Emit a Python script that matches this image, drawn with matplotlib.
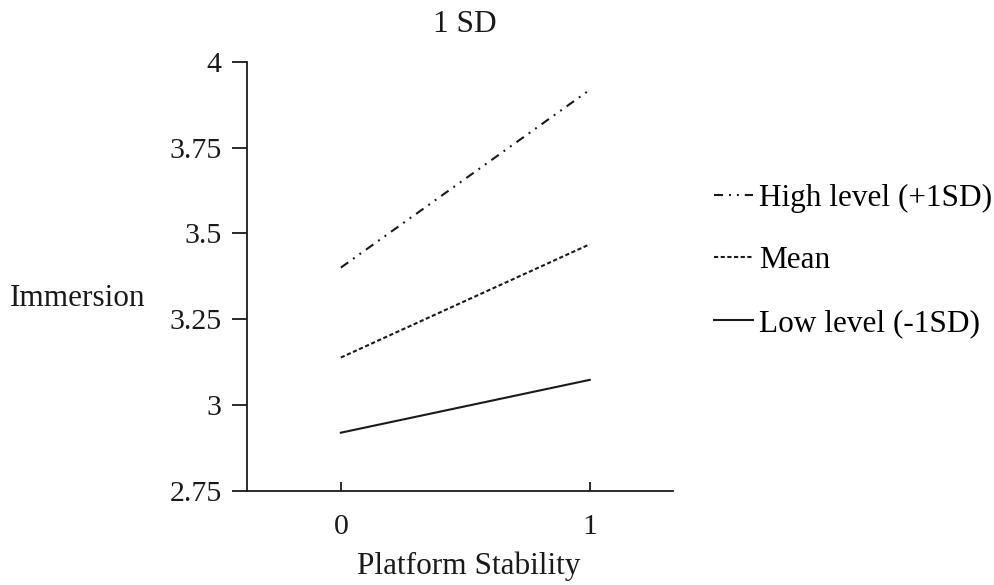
import matplotlib
matplotlib.use('Agg')
import matplotlib.pyplot as plt

# Dados
x_vals = [0, 1]
high = [3.40, 3.918]
mean = [3.138, 3.468]
low = [2.919, 3.073]
labels = ['High level (+1SD)', 'Mean', 'Low level (-1SD)']
y_ticks = [2.75, 3, 3.25, 3.5, 3.75, 4]
y_ticklabels = ['2.75', '3', '3.25', '3.5', '3.75', '4']

plt.rcParams['font.family'] = ['Liberation Serif', 'DejaVu Serif']
plt.rcParams['lines.scale_dashes'] = False

fs_tick = 21.5
fs = 22.5
fig = plt.figure(figsize=(9.95, 5.85), dpi=100)
ax = fig.add_axes([0.248, 0.1612, 0.428, 0.7333])

c = '#1a1a1a'
ax.plot(x_vals, high, color=c, lw=1.5, dashes=(6.5, 4.3, 1.4, 4.3, 1.4, 4.3), label=labels[0])
ax.plot(x_vals, mean, color=c, lw=1.5, dashes=(3, 1.8), label=labels[1])
ax.plot(x_vals, low, color=c, lw=1.5, label=labels[2])

ax.set_xlim(-0.378, 1.333)
ax.set_ylim(2.75, 4)
ax.set_xticks(x_vals)
ax.set_yticks(y_ticks)
ax.set_yticklabels(y_ticklabels)

for s in ['top', 'right']:
    ax.spines[s].set_visible(False)
for s in ['left', 'bottom']:
    ax.spines[s].set_linewidth(1.3)
    ax.spines[s].set_color(c)

ax.tick_params(axis='y', direction='out', length=11, width=1.3, pad=7, labelsize=fs_tick, colors=c)
ax.tick_params(axis='x', direction='in', length=6.5, width=1.3, pad=17, labelsize=fs_tick, colors=c)

ax.set_xlabel('Platform Stability', fontsize=fs, color=c, va='center')
ax.xaxis.set_label_coords(0.521, -0.176)
ax.set_ylabel('Immersion', fontsize=fs, rotation=0, color=c, va='center', ha='center')
ax.yaxis.set_label_coords(-0.396, 0.447)

fig.text(0.467, 0.958, '1 SD', fontsize=fs, ha='center', va='center', color=c)

ax.legend(loc='upper left', bbox_to_anchor=(1.067, 0.745), frameon=False, fontsize=fs,
          handlelength=1.25, handletextpad=0.2, labelspacing=1.08, borderaxespad=0)

fig.savefig('out.png', dpi=100)
